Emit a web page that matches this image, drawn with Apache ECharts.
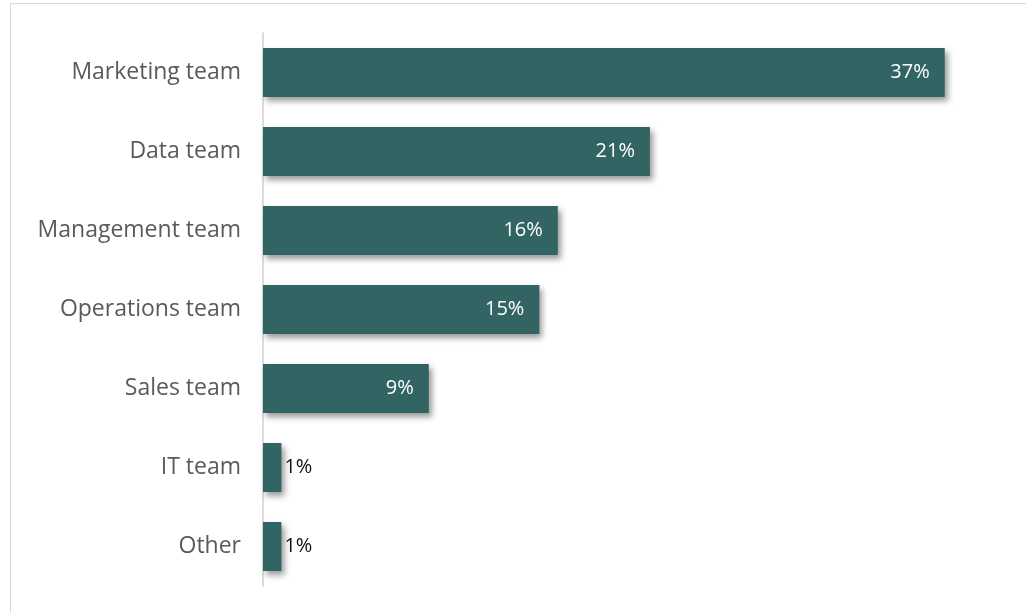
<!DOCTYPE html>
<html>
<head>
<meta charset="utf-8">
<script src="https://cdn.jsdelivr.net/npm/echarts@6/dist/echarts.min.js"></script>
<style>
  html, body { margin: 0; padding: 0; background: #fff; }
  #frame { position: absolute; left: 10px; top: 3px; width: 1030px; height: 620px; border: 1px solid #d9d9d9; box-sizing: border-box; }
  #chart { position: absolute; left: 0; top: 0; width: 1026px; height: 613px; }
</style>
</head>
<body>
<div id="frame"></div>
<div id="chart"></div>
<script>
// Team categories, top to bottom
const teams = ['Marketing team', 'Data team', 'Management team', 'Operations team', 'Sales team', 'IT team', 'Other'];
// Share of respondents per team (%)
const shares = [37, 21, 16, 15, 9, 1, 1];

const FONT = '"Open Sans", Lato, sans-serif';
const BAR = '#336464';

const chart = echarts.init(document.getElementById('chart'), null, { renderer: 'canvas' });

chart.setOption({
  backgroundColor: 'transparent',
  animation: false,
  grid: { left: 263, right: 26, top: 33, height: 553, containLabel: false },
  xAxis: {
    type: 'value', min: 0, max: 40,
    show: false
  },
  yAxis: {
    type: 'category',
    inverse: true,
    data: teams,
    axisLine: { show: true, lineStyle: { color: '#d0d0d0', width: 1.5 } },
    axisTick: { show: false },
    axisLabel: { color: '#5a5a5a', fontSize: 23, fontFamily: FONT, margin: 22, padding: [3, 0, 0, 0] }
  },
  series: [{
    type: 'bar',
    data: shares.map(v => ({
      value: v,
      label: v >= 5
        ? { position: 'insideRight', color: '#ffffff', distance: 15 }
        : { position: 'right', color: '#111111', distance: 3 }
    })),
    barCategoryGap: '38%',
    itemStyle: {
      color: BAR,
      shadowColor: 'rgba(0,0,0,0.4)',
      shadowBlur: 6,
      shadowOffsetX: 3,
      shadowOffsetY: 4
    },
    label: {
      show: true,
      fontSize: 20,
      fontFamily: FONT,
      formatter: p => p.value + '%'
    }
  }]
});
</script>
</body>
</html>
